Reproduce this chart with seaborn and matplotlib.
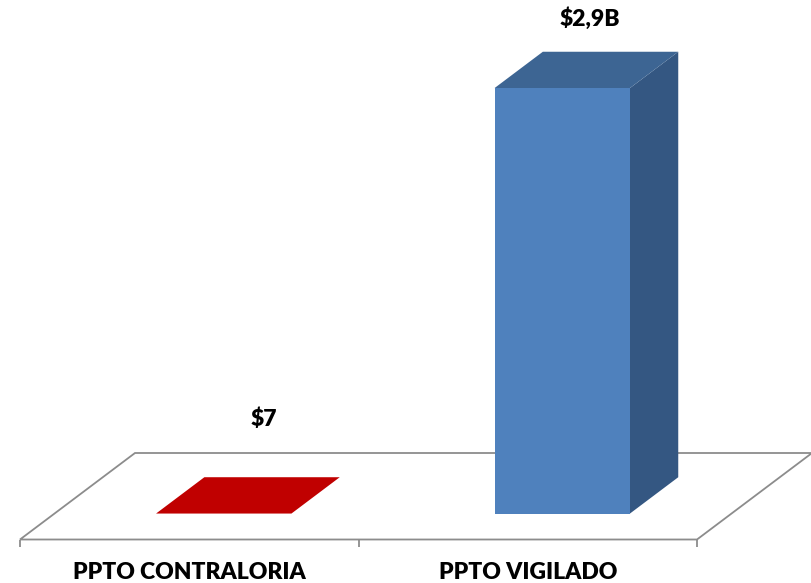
import matplotlib
matplotlib.use("Agg")
import matplotlib.pyplot as plt
import matplotlib.transforms as mtransforms
from matplotlib.patches import Polygon
import seaborn as sns

# Data
categories = ["PPTO CONTRALORIA", "PPTO VIGILADO"]
values = [7, 2.9e9]
value_labels = ["$7", "$2,9B"]
front_colors = ["#C00000", "#4F81BD"]
top_colors = ["#C00000", "#3D6593"]
side_colors = ["#A00000", "#345782"]
label_offsets = [(29, 68), (20, 50)]  # points, from the top front center of each bar

sns.set_theme(style="white")
plt.rcParams["font.family"] = ["Lato", "DejaVu Sans"]

fig = plt.figure(figsize=(8.11, 5.83), dpi=100)
ax = fig.add_axes([20 / 811, 43.5 / 583, 677 / 811, 513.5 / 583])
ax.patch.set_alpha(0)

# the fake 3D depth: a full floor moves this far right/up (inches)
depth_dx, depth_dy = 1.15, 0.865
bar_d0, bar_d1 = 0.30, 0.72
bar_width = 0.4
floor_color = "#8C8C8C"

sns.barplot(x=categories, y=values, hue=categories, palette=front_colors,
            width=bar_width, saturation=1, legend=False, linewidth=0, ax=ax)
ax.set_xlim(-0.5, 1.5)
ax.set_ylim(0, 3.5e9)


def depth_trans(d):
    return ax.transData + mtransforms.ScaledTranslation(d * depth_dx, d * depth_dy, fig.dpi_scale_trans)


def proj(x, y, d):
    return depth_trans(d).transform((x, y))


def face(points, color, z, **kw):
    p = Polygon(points, closed=True, transform=mtransforms.IdentityTransform(),
                facecolor=color, clip_on=False, zorder=z, **kw)
    ax.add_artist(p)


# floor
x_lo, x_hi = ax.get_xlim()
floor = [proj(x_lo, 0, 0), proj(x_hi, 0, 0), proj(x_hi, 0, 1), proj(x_lo, 0, 1)]
face(floor, "white", 0.5, edgecolor=floor_color, linewidth=1.3)

# front faces from seaborn, pushed back into the floor
for patch in ax.patches[:len(values)]:
    patch.set_transform(depth_trans(bar_d0))
    patch.set_clip_on(False)
    patch.set_zorder(3)

# top and side faces + value labels
for i, v in enumerate(values):
    x0, x1 = i - bar_width / 2, i + bar_width / 2
    top = [proj(x0, v, bar_d0), proj(x1, v, bar_d0), proj(x1, v, bar_d1), proj(x0, v, bar_d1)]
    side = [proj(x1, 0, bar_d0), proj(x1, v, bar_d0), proj(x1, v, bar_d1), proj(x1, 0, bar_d1)]
    face(side, side_colors[i], 2, linewidth=0)
    face(top, top_colors[i], 2.5, linewidth=0)
    ax.annotate(value_labels[i], xy=(i, v), xycoords=depth_trans(bar_d0),
                xytext=label_offsets[i], textcoords="offset points",
                ha="center", va="center", fontsize=16.5, fontweight="heavy",
                color="black", annotation_clip=False)

for s in ax.spines.values():
    s.set_visible(False)
ax.set_yticks([])
ax.set_xticks([0, 1])
ax.set_xticklabels(categories, fontsize=16.5, fontweight="heavy", color="black")
ax.set_xticks([-0.5, 0.5, 1.5], minor=True)
ax.tick_params(axis="x", which="major", length=0, pad=16)
ax.tick_params(axis="x", which="minor", length=5, width=1.3, color=floor_color, bottom=True)
ax.set_xlabel("")
ax.set_ylabel("")

fig.savefig("out.png", dpi=100)
